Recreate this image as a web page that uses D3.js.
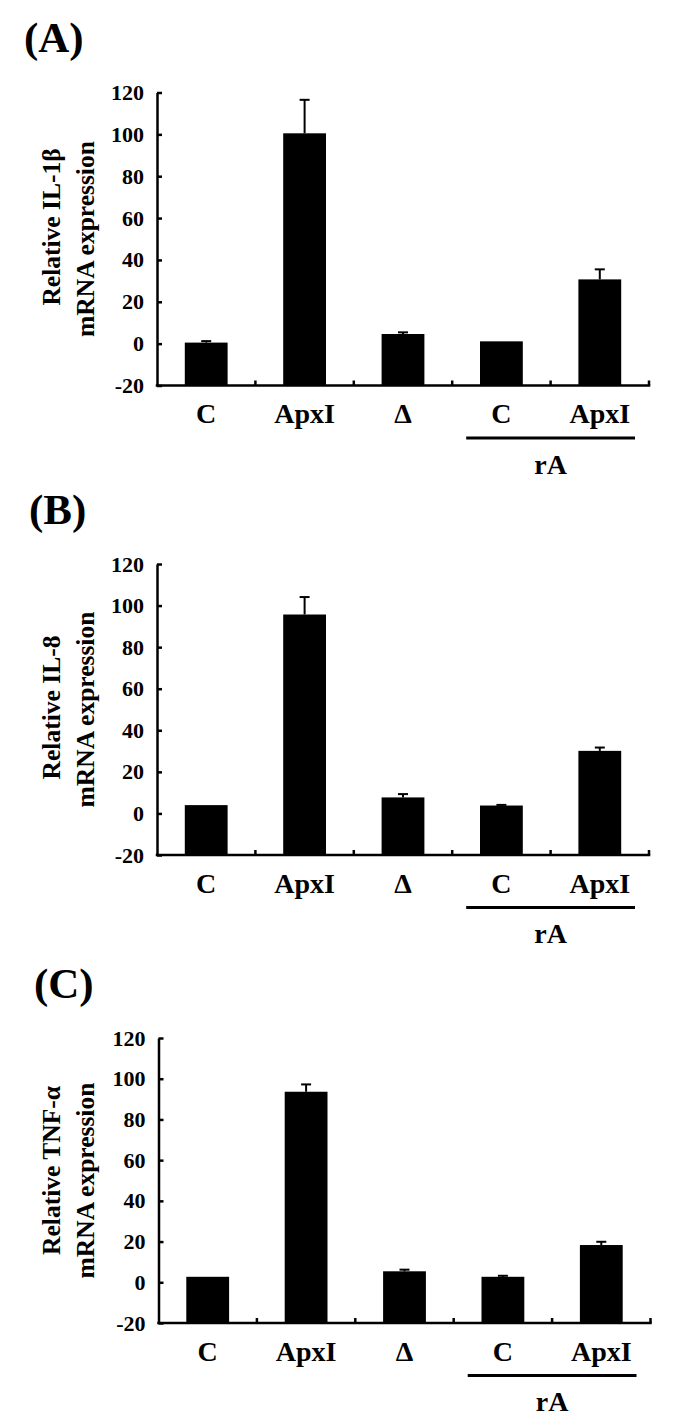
<!DOCTYPE html>
<html>
<head>
<meta charset="utf-8">
<script src="https://cdn.jsdelivr.net/npm/d3@7"></script>
<style>
  html, body { margin: 0; padding: 0; background: #fff; }
  svg { display: block; }
  text { font-family: "Liberation Serif", "Times New Roman", serif; font-weight: bold; fill: #000; }
</style>
</head>
<body>
<svg id="chart" width="685" height="1428"></svg>
<script>
// ---- Data ----
const categories = ["C", "ApxI", "\u0394", "C", "ApxI"];
const groupLabel = "rA";
const yTicks = [-20, 0, 20, 40, 60, 80, 100, 120];
const panelTitles = ["(A)", "(B)", "(C)"];
const yLabelLine1 = ["Relative IL-1\u03B2", "Relative IL-8", "Relative TNF-\u03B1"];
const yLabelLine2 = ["mRNA expression", "mRNA expression", "mRNA expression"];
const il1bMeans  = [0.5, 100.5, 4.6, 1.1, 30.7];
const il1bErrors = [0.7, 16.0, 0.8, 0.0, 4.8];
const il8Means   = [4.0, 95.7, 7.7, 3.8, 30.1];
const il8Errors  = [0.0, 8.4, 1.6, 0.3, 1.6];
const tnfMeans   = [2.7, 93.6, 5.4, 2.7, 18.3];
const tnfErrors  = [0.0, 3.6, 0.8, 0.5, 1.6];

const seriesMeans = [il1bMeans, il8Means, tnfMeans];
const seriesErrors = [il1bErrors, il8Errors, tnfErrors];

// ---- Layout ----
const layouts = [
  { top: 92.5, bottom: 385.5, left: 157, right: 649, titleX: 24, titleY: 52, l1Off: -12 },
  { top: 564,  bottom: 855,   left: 157, right: 649, titleX: 29, titleY: 524, l1Off: -2 },
  { top: 1038, bottom: 1323,  left: 158.5, right: 650.5, titleX: 34, titleY: 998, l1Off: -10 }
];

const svg = d3.select("#chart");

layouts.forEach((L, p) => {
  const g = svg.append("g");
  const y = d3.scaleLinear().domain([-20, 120]).range([L.bottom, L.top]);
  const x = d3.scaleBand().domain(d3.range(categories.length)).range([L.left, L.right]).padding(0);
  const bw = x.bandwidth() * 0.435;

  // Title
  g.append("text")
    .attr("x", L.titleX).attr("y", L.titleY)
    .attr("font-size", 43)
    .text(panelTitles[p]);

  // Y axis
  const yAxis = d3.axisLeft(y).tickValues(yTicks).tickSizeInner(-5).tickSizeOuter(0).tickPadding(13)
    .tickFormat(d => String(d));
  const ya = g.append("g").attr("transform", `translate(${L.left},0)`).call(yAxis);
  ya.select(".domain").attr("stroke", "#000").attr("stroke-width", 2.5);
  ya.selectAll(".tick line").attr("stroke", "#000").attr("stroke-width", 2.5);
  ya.selectAll(".tick text").attr("font-size", 22).attr("font-family", "Liberation Serif").attr("font-weight", "bold").attr("fill", "#000");

  // X axis baseline
  g.append("line")
    .attr("x1", L.left - 1.25).attr("x2", L.right + 1.25)
    .attr("y1", y(-20)).attr("y2", y(-20))
    .attr("stroke", "#000").attr("stroke-width", 2.5);
  // boundary ticks (upward)
  g.selectAll(".bt").data(d3.range(categories.length)).enter().append("line")
    .attr("x1", i => x(i) + x.bandwidth()).attr("x2", i => x(i) + x.bandwidth())
    .attr("y1", y(-20)).attr("y2", y(-20) - 5)
    .attr("stroke", "#000").attr("stroke-width", 2.5);

  // Bars
  const means = seriesMeans[p], errs = seriesErrors[p];
  g.selectAll(".bar").data(means).enter().append("rect")
    .attr("x", (d, i) => x(i) + (x.bandwidth() - bw) / 2)
    .attr("width", bw)
    .attr("y", d => y(d))
    .attr("height", d => y(-20) - y(d))
    .attr("fill", "#000");

  // Error bars (upper)
  const eb = g.selectAll(".err").data(means.map((m, i) => ({ m, e: errs[i], i })).filter(d => d.e > 0)).enter().append("g");
  eb.append("line")
    .attr("x1", d => x(d.i) + x.bandwidth() / 2).attr("x2", d => x(d.i) + x.bandwidth() / 2)
    .attr("y1", d => y(d.m)).attr("y2", d => y(d.m + d.e))
    .attr("stroke", "#000").attr("stroke-width", 2);
  eb.append("line")
    .attr("x1", d => x(d.i) + x.bandwidth() / 2 - 5).attr("x2", d => x(d.i) + x.bandwidth() / 2 + 5)
    .attr("y1", d => y(d.m + d.e)).attr("y2", d => y(d.m + d.e))
    .attr("stroke", "#000").attr("stroke-width", 2);

  // Category labels
  g.selectAll(".cl").data(categories).enter().append("text")
    .attr("x", (d, i) => x(i) + x.bandwidth() / 2)
    .attr("y", y(-20) + 37.5)
    .attr("text-anchor", "middle")
    .attr("font-size", 28)
    .text(d => d);

  // Group bracket line and label
  const gx1 = x(3) + 14, gx2 = x(4) + x.bandwidth() - 14;
  g.append("line")
    .attr("x1", gx1).attr("x2", gx2)
    .attr("y1", y(-20) + 52.5).attr("y2", y(-20) + 52.5)
    .attr("stroke", "#000").attr("stroke-width", 3);
  g.append("text")
    .attr("x", x(4)).attr("y", y(-20) + 88)
    .attr("text-anchor", "middle")
    .attr("font-size", 28)
    .text(groupLabel);

  // Y label
  const cy = (L.top + L.bottom) / 2;
  g.append("text")
    .attr("transform", `translate(60,${cy + L.l1Off}) rotate(-90)`)
    .attr("text-anchor", "middle")
    .attr("font-size", 25.5)
    .text(yLabelLine1[p]);
  g.append("text")
    .attr("transform", `translate(94,${cy}) rotate(-90)`)
    .attr("text-anchor", "middle")
    .attr("font-size", 25.5)
    .text(yLabelLine2[p]);
});
</script>
</body>
</html>
